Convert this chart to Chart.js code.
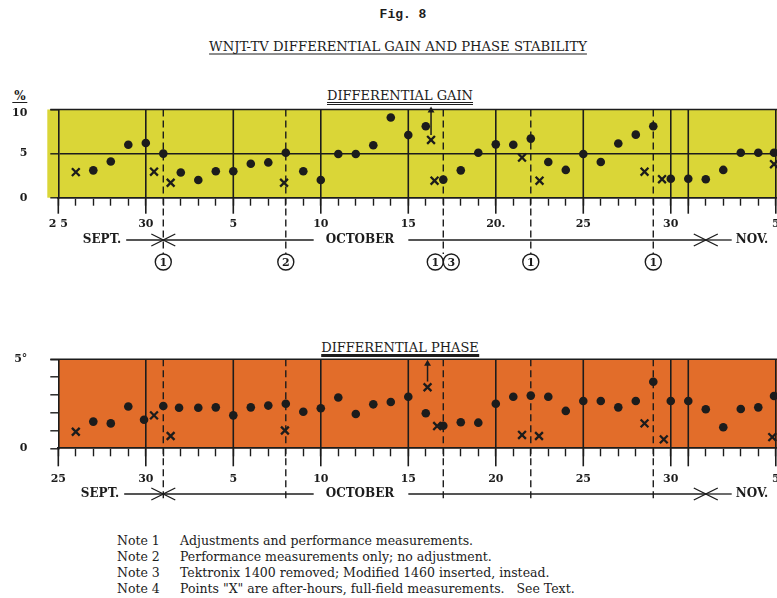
<!DOCTYPE html>
<html lang="en">
<head>
<meta charset="UTF-8">
<title>Fig. 8</title>
<script src="https://cdn.jsdelivr.net/npm/chart.js@4.4.3/dist/chart.umd.min.js"></script>
<style>
  body { margin:0; width:777px; height:598px; position:relative; overflow:hidden; background:#fff; color:#1c1c1c; font-family:"DejaVu Serif", serif; }
  .t { position:absolute; white-space:nowrap; transform:translate(-50%,-50%); }
  #fig { left:403px; top:14px; font:bold 13px "Liberation Mono", monospace; }
  #title { left:398px; top:46px; font-size:13.2px; text-decoration:underline; text-underline-offset:3px; }
  #gainT { left:400px; top:97px; font-size:13px; border-bottom:3px double #1c1c1c; line-height:13px; }
  #phaseT { left:400px; top:349px; font-size:13px; border-bottom:3px solid #1c1c1c; line-height:13px; }
  #pct { left:20px; top:97px; font:bold 12px "DejaVu Serif", serif; border-bottom:1.5px solid #1c1c1c; padding:0 2px; line-height:11px; }
  canvas { position:absolute; left:0; }
  #gain { top:60px; }
  #phase { top:310px; }
  #notes { position:absolute; left:117px; top:533px; font-size:12.5px; line-height:16px; }
  #notes div span { display:inline-block; width:63px; }
</style>
</head>
<body>
<div class="t" id="fig">Fig. 8</div>
<div class="t" id="title">WNJT-TV DIFFERENTIAL GAIN AND PHASE STABILITY</div>
<div class="t" id="gainT">DIFFERENTIAL GAIN</div>
<div class="t" id="phaseT">DIFFERENTIAL PHASE</div>
<div class="t" id="pct">%</div>
<canvas id="gain" width="777" height="220"></canvas>
<canvas id="phase" width="777" height="210"></canvas>
<div id="notes">
  <div><span>Note 1</span>Adjustments and performance measurements.</div>
  <div><span>Note 2</span>Performance measurements only; no adjustment.</div>
  <div><span>Note 3</span>Tektronix 1400 removed; Modified 1460 inserted, instead.</div>
  <div><span>Note 4</span>Points "X" are after-hours, full-field measurements.&nbsp;&nbsp;&nbsp;See Text.</div>
</div>
<script>
// day 0 = Sept. 25, day 6 = Oct. 1, day 37 = Nov. 1
const tickDays = [0, 5, 10, 15, 20, 25, 30, 35, 41];
const gainTickLabels = ['2 5', '30', '5', '10', '15', '20.', '25', '30', '5'];
const phaseTickLabels = ['25', '30', '5', '10', '15', '20', '25', '30', '5'];
const solidDays = [5, 10, 15, 20, 25, 30, 35, 36, 41];
const monthNames = ['SEPT.', 'OCTOBER', 'NOV.'];
const monthStartDays = [6, 37];
const noteDays = [6, 13, 22, 22, 27, 34];
const noteNumbers = ['1', '2', '1', '3', '1', '1'];

// differential gain, %
const gainDotDays = [2, 3, 4, 5, 6, 7, 8, 9, 10, 11, 12, 13, 14, 15, 16, 17, 18, 19, 20, 21, 22, 23, 24, 25, 26, 27, 28, 29, 30, 31, 32, 33, 34, 35, 36, 37, 38, 39, 40, 40.9];
const gainDotValues = [3.1, 4.1, 6.0, 6.2, 5.0, 2.85, 2.0, 3.0, 3.0, 3.85, 4.0, 5.1, 3.0, 2.0, 4.95, 4.95, 5.95, 9.1, 7.1, 8.1, 2.05, 3.1, 5.1, 6.05, 6.0, 6.7, 4.05, 3.15, 4.95, 4.05, 6.15, 7.15, 8.1, 2.15, 2.15, 2.1, 3.15, 5.1, 5.1, 5.1];
const gainXDays = [1, 5.47, 6.42, 12.9, 21.3, 21.5, 26.5, 27.5, 33.5, 34.5, 40.9];
const gainXValues = [2.9, 2.95, 1.7, 1.7, 6.55, 1.93, 4.55, 1.93, 2.95, 2.1, 3.8];
const gainArrowDay = 21.3;
const gainArrowValues = [7.1, 9.9];

// differential phase, degrees
const phaseDotDays = [2, 3, 4, 4.9, 6, 6.9, 8, 9, 10, 11, 12, 13, 14, 15, 16, 17, 18, 19, 20, 21, 22, 23, 24, 25, 26, 27, 28, 29, 30, 31, 32, 33, 34, 35, 36, 37, 38, 39, 40, 40.9];
const phaseDotValues = [1.5, 1.4, 2.35, 1.6, 2.38, 2.28, 2.28, 2.3, 1.85, 2.3, 2.4, 2.5, 2.05, 2.25, 2.85, 1.93, 2.47, 2.6, 2.9, 1.97, 1.27, 1.46, 1.44, 2.5, 2.9, 2.96, 2.9, 2.1, 2.66, 2.66, 2.3, 2.66, 3.74, 2.66, 2.66, 2.19, 1.18, 2.21, 2.3, 2.94];
const phaseXDays = [1, 5.47, 6.42, 12.95, 21.1, 21.65, 26.5, 27.47, 33.5, 34.6, 40.8];
const phaseXValues = [0.93, 1.85, 0.69, 1.0, 3.43, 1.25, 0.75, 0.69, 1.4, 0.5, 0.63];
const phaseArrowDay = 21.1;
const phaseArrowValues = [3.75, 4.75];

const INK = '#1c1c1c';
const SERIF = '"DejaVu Serif", serif';

const pts = (xs, ys) => xs.map((d, i) => ({ x: d, y: ys[i] }));

const fig8 = {
  id: 'fig8',
  beforeDraw(chart, args, o) {
    const { ctx, chartArea: a } = chart;
    ctx.save();
    ctx.fillStyle = o.bg;
    ctx.fillRect(a.left - o.bgLeft, a.top, a.right - a.left + o.bgLeft, a.bottom - a.top);
    ctx.restore();
  },
  beforeDatasetsDraw(chart, args, o) {
    const { ctx, chartArea: a, scales: { x } } = chart;
    ctx.save();
    ctx.strokeStyle = INK;
    ctx.lineWidth = 1.6;
    // top border
    ctx.beginPath();
    ctx.moveTo(a.left - 8, a.top);
    ctx.lineTo(a.right, a.top);
    ctx.stroke();
    // solid day lines, running down past the axis as long ticks
    [0].concat(solidDays).forEach(d => {
      const px = x.getPixelForValue(d);
      ctx.beginPath();
      ctx.moveTo(px, d === 0 ? a.bottom : a.top);
      ctx.lineTo(px, a.bottom + o.longTick);
      ctx.stroke();
    });
    // dashed note lines
    ctx.setLineDash([7, 4]);
    ctx.lineWidth = 1.4;
    [...new Set(noteDays)].forEach(d => {
      const px = x.getPixelForValue(d);
      ctx.beginPath();
      ctx.moveTo(px, a.top);
      ctx.lineTo(px, o.noteLineEnd);
      ctx.stroke();
    });
    ctx.restore();
  },
  afterDraw(chart, args, o) {
    const { ctx, scales: { x } } = chart;
    const y = o.rowY;
    ctx.save();
    ctx.strokeStyle = INK;
    ctx.fillStyle = INK;
    ctx.lineWidth = 1.3;
    ctx.font = 'bold 12px ' + SERIF;
    ctx.textAlign = 'center';
    ctx.textBaseline = 'middle';
    const b = monthStartDays.map(d => x.getPixelForValue(d));
    const line = (x1, x2) => { ctx.beginPath(); ctx.moveTo(x1, y); ctx.lineTo(x2, y); ctx.stroke(); };
    const head = (px, dir) => {
      ctx.beginPath();
      ctx.moveTo(px + dir * 12, y - 6);
      ctx.lineTo(px, y);
      ctx.lineTo(px + dir * 12, y + 6);
      ctx.stroke();
    };
    // SEPT.
    const w0 = ctx.measureText(monthNames[0]).width;
    ctx.fillText(monthNames[0], o.textX[0], y);
    line(o.textX[0] + w0 / 2 + 5, b[0]);
    // OCTOBER
    const w1 = ctx.measureText(monthNames[1]).width;
    ctx.fillText(monthNames[1], o.textX[1], y);
    line(b[0], o.textX[1] - w1 / 2 - 12);
    line(o.textX[1] + w1 / 2 + 14, b[1]);
    // NOV.
    const w2 = ctx.measureText(monthNames[2]).width;
    ctx.fillText(monthNames[2], o.textX[2], y);
    line(b[1], o.textX[2] - w2 / 2 - 4);
    b.forEach(px => { head(px, -1); head(px, 1); });
    // circled note numbers
    if (o.circleY) {
      ctx.font = 'bold 11px ' + SERIF;
      ctx.lineWidth = 1.4;
      noteDays.forEach((d, i) => {
        const same = noteDays.filter(v => v === d).length;
        const k = noteDays.slice(0, i).filter(v => v === d).length;
        const px = x.getPixelForValue(d) + (same > 1 ? (k === 0 ? -8 : 8) : 0);
        ctx.fillStyle = '#fff';
        ctx.beginPath();
        ctx.arc(px, o.circleY, 8, 0, Math.PI * 2);
        ctx.fill();
        ctx.stroke();
        ctx.fillStyle = INK;
        ctx.fillText(noteNumbers[i], px, o.circleY + 1);
      });
    }
    ctx.restore();
  }
};

function makeChart(id, cfg) {
  return new Chart(document.getElementById(id), {
    type: 'scatter',
    data: {
      datasets: [
        { data: pts(cfg.dotDays, cfg.dotValues), pointStyle: 'circle', pointRadius: 4.3, backgroundColor: INK, borderWidth: 0, clip: false },
        { data: pts(cfg.xDays, cfg.xValues), pointStyle: 'crossRot', pointRadius: 5.5, borderColor: INK, borderWidth: 2.3, clip: false },
        { type: 'line', data: cfg.arrowValues.map(v => ({ x: cfg.arrowDay, y: v })), borderColor: INK, borderWidth: 1.5,
          pointStyle: 'triangle', pointRadius: [0, 4], pointBackgroundColor: INK, pointBorderWidth: 0, clip: false }
      ]
    },
    options: {
      responsive: false,
      animation: false,
      layout: { autoPadding: false, padding: { top: cfg.top, left: 0, right: 0, bottom: 0 } },
      plugins: { legend: { display: false }, tooltip: { enabled: false }, fig8: cfg.plugin },
      scales: {
        x: {
          type: 'linear', min: 0, max: 41.07,
          afterBuildTicks: s => { s.ticks = Array.from({ length: 42 }, (_, i) => ({ value: i })); },
          afterFit: s => { s.height = cfg.xHeight; s.paddingLeft = 0; s.paddingRight = 0; },
          ticks: {
            autoSkip: false, maxRotation: 0, padding: cfg.labelPad, color: INK,
            font: { family: SERIF, weight: 'bold', size: 11 },
            callback: v => { const i = tickDays.indexOf(v); return i < 0 ? '' : cfg.tickLabels[i]; }
          },
          grid: { drawOnChartArea: false, tickLength: 8, tickColor: INK, tickWidth: 1.4 },
          border: { color: INK, width: 1.8 }
        },
        y: {
          min: 0, max: cfg.yMax,
          afterBuildTicks: s => { s.ticks = cfg.yTicks.map(v => ({ value: v })); },
          afterFit: s => { s.width = 58.3; s.paddingTop = 0; s.paddingBottom = 0; },
          ticks: {
            padding: 23, color: INK, font: { family: SERIF, weight: 'bold', size: 11, lineHeight: 0.6 },
            callback: v => cfg.yLabel(v)
          },
          grid: {
            drawOnChartArea: cfg.midLine !== null, tickLength: 8, tickColor: INK, tickWidth: 1.4,
            color: c => (c.tick && c.tick.value === cfg.midLine) ? INK : 'rgba(0,0,0,0)', lineWidth: 1.6
          },
          border: { color: INK, width: 1.6 }
        }
      }
    },
    plugins: [fig8]
  });
}

makeChart('gain', {
  dotDays: gainDotDays, dotValues: gainDotValues, xDays: gainXDays, xValues: gainXValues,
  arrowDay: gainArrowDay, arrowValues: gainArrowValues,
  top: 49.5, xHeight: 82.3, labelPad: 12, yMax: 10, yTicks: [0, 5, 10], midLine: 5,
  tickLabels: gainTickLabels, yLabel: v => v === 10 ? ['', '10'] : String(v),
  plugin: { bg: '#dad637', bgLeft: 11, longTick: 16, noteLineEnd: 194, rowY: 180, textX: [102, 360, 752], circleY: 202 }
});

makeChart('phase', {
  dotDays: phaseDotDays, dotValues: phaseDotValues, xDays: phaseXDays, xValues: phaseXValues,
  arrowDay: phaseArrowDay, arrowValues: phaseArrowValues,
  top: 49.3, xHeight: 71.7, labelPad: 16, yMax: 5, yTicks: [0, 1, 2, 3, 4, 5], midLine: null,
  tickLabels: phaseTickLabels, yLabel: v => v === 5 ? '5°' : (v === 0 ? '0' : ''),
  plugin: { bg: '#e26d2a', bgLeft: 0, longTick: 18, noteLineEnd: 192, rowY: 184, textX: [100, 360, 752], circleY: 0 }
});
</script>
</body>
</html>
